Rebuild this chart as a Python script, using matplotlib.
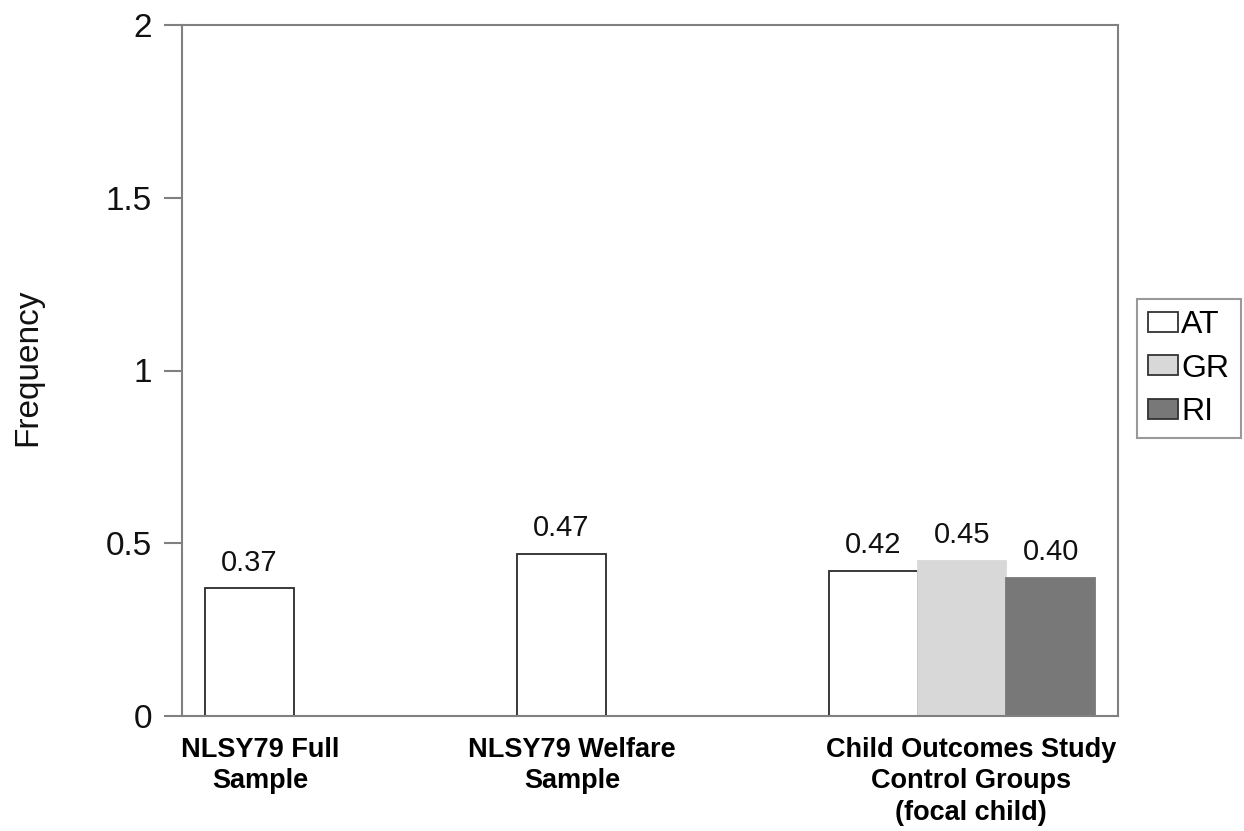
import numpy as np
import matplotlib
matplotlib.use("Agg")
import matplotlib.pyplot as plt

plt.rcParams['font.family'] = ['Liberation Sans', 'DejaVu Sans']

categories = ["NLSY79 Full\nSample", "NLSY79 Welfare\nSample",
              "Child Outcomes Study\nControl Groups\n(focal child)"]
series_names = ["AT", "GR", "RI"]
at_values = [0.37, 0.47, 0.42]
gr_values = [None, None, 0.45]
ri_values = [None, None, 0.40]
value_labels = {"AT": ["0.37", "0.47", "0.42"],
                "GR": [None, None, "0.45"],
                "RI": [None, None, "0.40"]}
y_ticks = [0, 0.5, 1, 1.5, 2]
y_tick_labels = ["0", "0.5", "1", "1.5", "2"]

fills = {"AT": "white", "GR": "#d8d8d8", "RI": "#787878"}
edges = {"AT": "#2a2a2a", "GR": "#d8d8d8", "RI": "#787878"}

fig = plt.figure(figsize=(12.44, 8.31), dpi=100)
ax = fig.add_axes([182 / 1244, 1 - 716 / 831, (1118 - 182) / 1244, (716 - 25) / 831])

x = np.arange(len(categories))
width = 0.285
offsets = {"AT": -width, "GR": 0.0, "RI": width}
label_shift = np.array([-0.25, -0.25, 0.03])
data = {"AT": at_values, "GR": gr_values, "RI": ri_values}

handles = []
for name in series_names:
    vals = data[name]
    idx = [i for i, v in enumerate(vals) if v is not None]
    xs = x[idx] + offsets[name]
    hs = [vals[i] for i in idx]
    bars = ax.bar(xs, hs, width=width, color=fills[name], edgecolor=edges[name],
                  linewidth=1.3, label=name, zorder=2)
    handles.append(bars)
    for b, i in zip(bars, idx):
        ax.text(b.get_x() + b.get_width() / 2, b.get_height() + 0.033,
                value_labels[name][i], ha="center", va="bottom", fontsize=21,
                color="#111111")

ax.set_xlim(-0.5, 2.5)
ax.set_ylim(0, 2)
ax.set_yticks(y_ticks)
ax.set_yticklabels(y_tick_labels, fontsize=24, color="#111111")
ax.set_xticks(x + label_shift)
ax.set_xticklabels(categories, fontsize=19.5, fontweight="bold", linespacing=1.27)
ax.tick_params(axis="x", length=0, pad=15)
ax.tick_params(axis="y", length=13, width=1.5, color="#808080", pad=8.5)
for sp in ax.spines.values():
    sp.set_color("#808080")
    sp.set_linewidth(1.5)

ax.set_ylabel("Frequency", fontsize=24, color="#111111")
ax.yaxis.set_label_coords(-0.148, 0.505)

leg = fig.legend(handles=handles, labels=series_names, loc="upper left",
                 bbox_to_anchor=(1137 / 1244, 1 - 299 / 831), fontsize=23,
                 frameon=True, fancybox=False, handlelength=0.94, handleheight=0.6,
                 handletextpad=0.1, labelspacing=0.42, borderpad=0.35,
                 borderaxespad=0)
leg.get_frame().set_edgecolor("#808080")
leg.get_frame().set_linewidth(1.5)
for h in leg.legend_handles:
    h.set_edgecolor("#333333")

fig.savefig("out.png", dpi=100)
